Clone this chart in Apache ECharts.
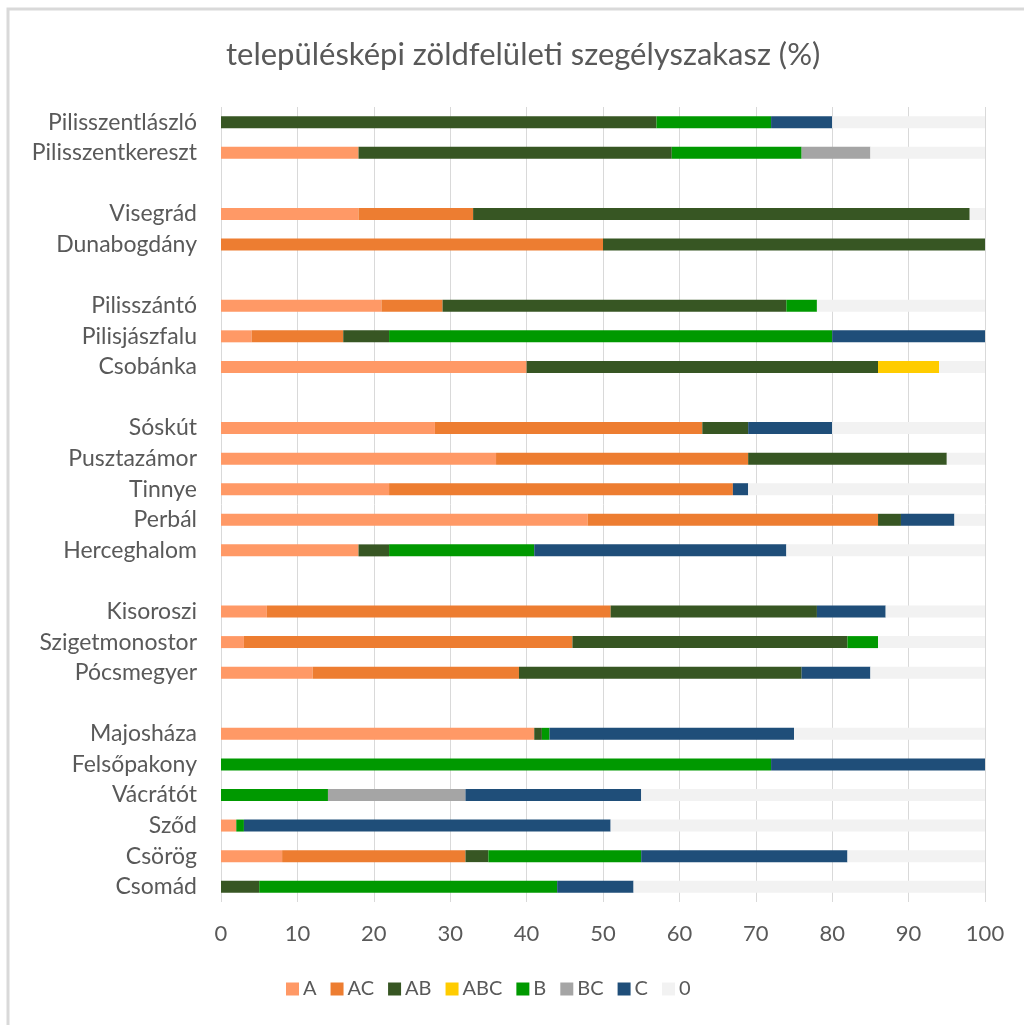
<!DOCTYPE html>
<html><head><meta charset="utf-8">
<script src="https://cdn.jsdelivr.net/npm/echarts@6/dist/echarts.min.js"></script>
<style>html,body{margin:0;padding:0;background:#fff}#c{width:1024px;height:1025px}</style>
</head><body><div id="c"></div>
<script>
// categories bottom -> top (blank rows are spacers)
const categories = ['Csomád','Csörög','Sződ','Vácrátót','Felsőpakony','Majosháza',' ',
  'Pócsmegyer','Szigetmonostor','Kisoroszi','  ',
  'Herceghalom','Perbál','Tinnye','Pusztazámor','Sóskút','   ',
  'Csobánka','Pilisjászfalu','Pilisszántó','    ',
  'Dunabogdány','Visegrád','     ',
  'Pilisszentkereszt','Pilisszentlászló'];
const seriesNames = ['A','AC','AB','ABC','B','BC','C','0'];
const A   = [0, 8, 2, 0, 0, 41, null, 12, 3, 6, null, 18, 48, 22, 36, 28, null, 40, 4, 21, null, 0, 18, null, 18, 0];
const AC  = [0, 24, 0, 0, 0, 0, null, 27, 43, 45, null, 0, 38, 45, 33, 35, null, 0, 12, 8, null, 50, 15, null, 0, 0];
const AB  = [5, 3, 0, 0, 0, 1, null, 37, 36, 27, null, 4, 3, 0, 26, 6, null, 46, 6, 45, null, 50, 65, null, 41, 57];
const ABC = [0, 0, 0, 0, 0, 0, null, 0, 0, 0, null, 0, 0, 0, 0, 0, null, 8, 0, 0, null, 0, 0, null, 0, 0];
const B   = [39, 20, 1, 14, 72, 1, null, 0, 4, 0, null, 19, 0, 0, 0, 0, null, 0, 58, 4, null, 0, 0, null, 17, 15];
const BC  = [0, 0, 0, 18, 0, 0, null, 0, 0, 0, null, 0, 0, 0, 0, 0, null, 0, 0, 0, null, 0, 0, null, 9, 0];
const C   = [10, 27, 48, 23, 28, 32, null, 9, 0, 9, null, 33, 7, 2, 0, 11, null, 0, 20, 0, null, 0, 0, null, 0, 8];
const Z   = [46, 18, 49, 45, 0, 25, null, 15, 14, 13, null, 26, 4, 31, 5, 20, null, 6, 0, 22, null, 0, 2, null, 15, 20];
const xTicks = [0,10,20,30,40,50,60,70,80,90,100];

const values = [A, AC, AB, ABC, B, BC, C, Z];
const colors = ['#FF9966','#ED7D31','#375623','#FFCC00','#009900','#A5A5A5','#1F4E79','#F2F2F2'];
const font = 'Lato, "Open Sans", sans-serif';

const chart = echarts.init(document.getElementById('c'));
chart.setOption({
  animation: false,
  title: {
    text: 'településképi zöldfelületi szegélyszakasz (%)',
    left: 221, top: 34,
    textStyle: {fontFamily: font, fontSize: 31, fontWeight: 'normal', color: '#595959'}
  },
  graphic: [{
    type: 'rect', shape: {x: 8, y: 9, width: 1200, height: 1200},
    style: {fill: 'none', stroke: '#D9D9D9', lineWidth: 3}, silent: true
  }],
  legend: {
    bottom: 21, left: 281, itemWidth: 13, itemHeight: 13, itemGap: 14,
    icon: 'rect',
    textStyle: {fontFamily: font, fontSize: 20, color: '#595959', padding: [0, 0, 0, -1]},
    data: seriesNames
  },
  grid: {left: 221, right: 39, top: 107, bottom: 123, containLabel: false},
  xAxis: {
    type: 'value', min: 0, max: 100, interval: 10,
    axisLine: {show: false}, axisTick: {show: false},
    splitLine: {show: true, lineStyle: {color: '#D9D9D9', width: 1}},
    axisLabel: {fontFamily: font, fontSize: 22, color: '#595959', margin: 21,
      formatter: v => xTicks.includes(v) ? String(v) : ''}
  },
  yAxis: {
    type: 'category', data: categories,
    axisLine: {show: false}, axisTick: {show: false},
    axisLabel: {fontFamily: font, fontSize: 23, color: '#595959', margin: 24}
  },
  series: seriesNames.map((n, i) => ({
    name: n, type: 'bar', stack: 'total', barWidth: 12,
    itemStyle: {color: colors[i]},
    data: values[i]
  }))
});
</script></body></html>
